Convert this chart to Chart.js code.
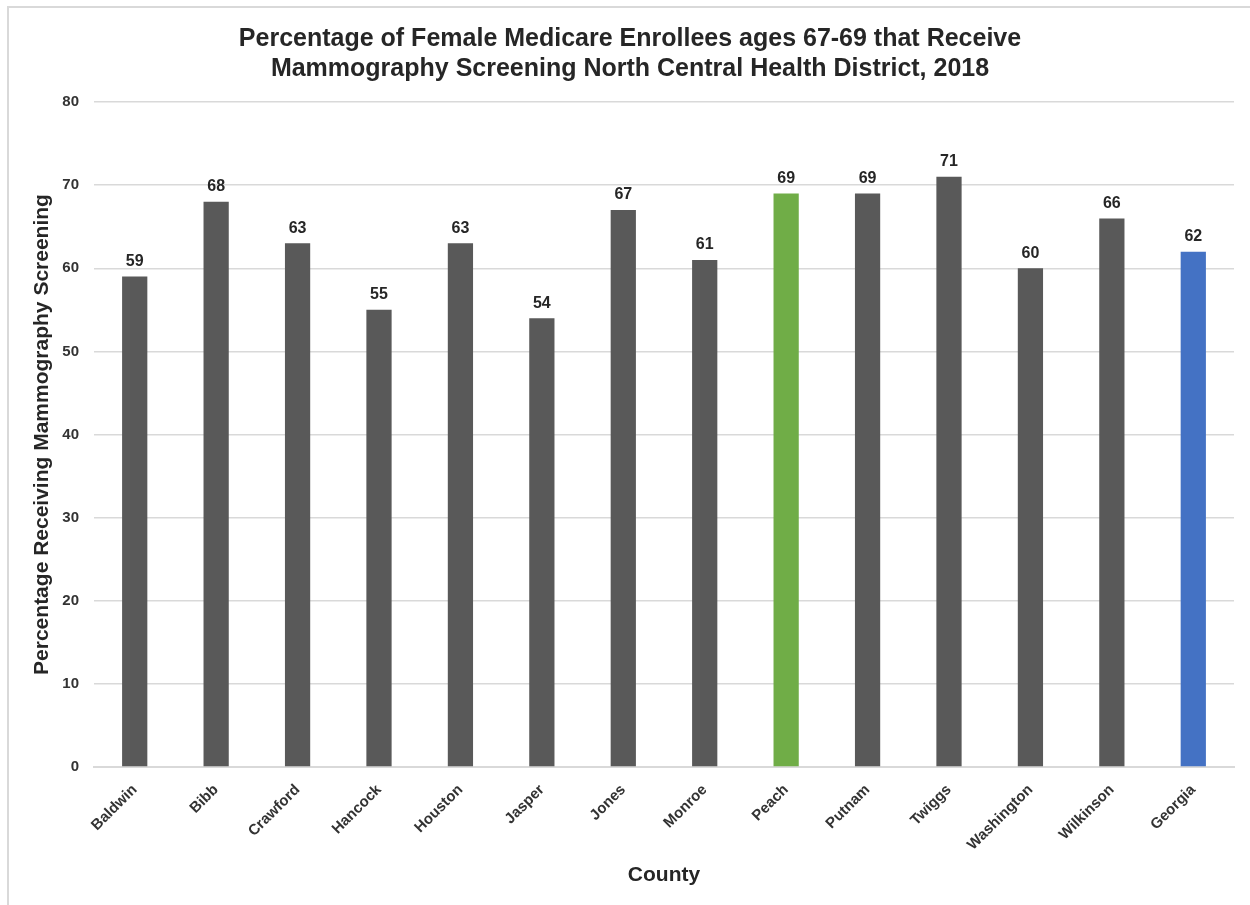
<!DOCTYPE html>
<html>
<head>
<meta charset="utf-8">
<script src="https://cdn.jsdelivr.net/npm/chart.js@4"></script>
<style>
  html, body { margin: 0; padding: 0; background: #fff; }
  #wrap { position: relative; width: 1250px; height: 905px; overflow: hidden; }
  #frame { position: absolute; left: 7px; top: 6px; width: 1260px; height: 920px; border-left: 2px solid #d9d9d9; border-top: 2px solid #d9d9d9; box-sizing: border-box; }
  canvas { position: absolute; left: 0; top: 0; }
</style>
</head>
<body>
<div id="wrap">
  <div id="frame"></div>
  <canvas id="c" width="1250" height="905"></canvas>
</div>
<script>
const categories = ["Baldwin", "Bibb", "Crawford", "Hancock", "Houston", "Jasper", "Jones", "Monroe", "Peach", "Putnam", "Twiggs", "Washington", "Wilkinson", "Georgia"];
const values = [59, 68, 63, 55, 63, 54, 67, 61, 69, 69, 71, 60, 66, 62];
const barColors = ["#595959", "#595959", "#595959", "#595959", "#595959", "#595959", "#595959", "#595959", "#70AD47", "#595959", "#595959", "#595959", "#595959", "#4472C4"];
const titleLines = ["Percentage of Female Medicare Enrollees ages 67-69 that Receive", "Mammography Screening North Central Health District, 2018"];
const yTitle = "Percentage Receiving Mammography Screening";
const xTitle = "County";

const FONT = "'Liberation Sans', Arial, sans-serif";

const valueLabels = {
  id: 'valueLabels',
  afterDatasetsDraw(chart) {
    const ctx = chart.ctx;
    const meta = chart.getDatasetMeta(0);
    ctx.save();
    ctx.font = "bold 16px " + FONT;
    ctx.fillStyle = "#262626";
    ctx.textAlign = "center";
    ctx.textBaseline = "bottom";
    meta.data.forEach((bar, i) => {
      ctx.fillText(String(values[i]), bar.x, bar.y - 7);
    });
    ctx.restore();
  }
};

const shiftTitle = {
  id: 'shiftTitle',
  afterLayout(chart) {
    if (chart.titleBlock) {
      chart.titleBlock.left = 10;
      chart.titleBlock.right = 1250;
    }
  }
};

new Chart(document.getElementById('c'), {
  type: 'bar',
  data: {
    labels: categories,
    datasets: [{
      data: values,
      backgroundColor: barColors,
      borderWidth: 0,
      barPercentage: 0.31,
      categoryPercentage: 1.0
    }]
  },
  options: {
    responsive: false,
    animation: false,
    layout: { padding: { left: 0, right: 16, top: 0, bottom: 0 } },
    plugins: {
      legend: { display: false },
      tooltip: { enabled: false },
      title: {
        display: true,
        text: titleLines,
        color: "#262626",
        font: { family: FONT, size: 25, weight: 'bold', lineHeight: 1.2 },
        padding: { top: 24, bottom: 18 }
      }
    },
    scales: {
      x: {
        grid: { display: false, drawTicks: false },
        border: { display: true, color: "#d9d9d9", width: 2 },
        ticks: {
          color: "#333333",
          font: { family: FONT, size: 15, weight: 'bold' },
          maxRotation: 45, minRotation: 45,
          padding: 14
        },
        title: {
          display: true, text: xTitle, color: "#262626",
          font: { family: FONT, size: 21, weight: 'bold', lineHeight: 1.2 },
          padding: { top: 0, bottom: 17 }
        },
        afterFit(scale) { scale.height = 138; }
      },
      y: {
        min: 0, max: 80,
        ticks: {
          stepSize: 10, color: "#333333",
          font: { family: FONT, size: 15, weight: 'bold' },
          padding: 15
        },
        grid: { color: "#d9d9d9", lineWidth: 1.5, drawTicks: false },
        border: { display: false },
        title: {
          display: true, text: yTitle, color: "#262626",
          font: { family: FONT, size: 21, weight: 'bold', lineHeight: 1.2 },
          padding: { top: 30, bottom: 0 }
        },
        afterFit(scale) { scale.width = 94; }
      }
    }
  },
  plugins: [valueLabels, shiftTitle]
});
</script>
</body>
</html>
